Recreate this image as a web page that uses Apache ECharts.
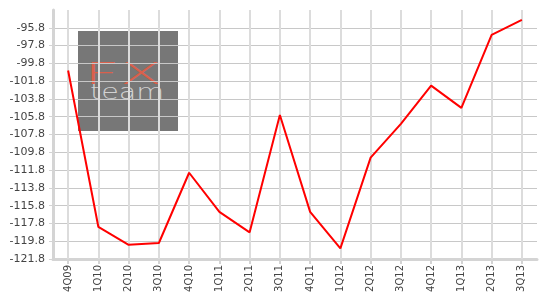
<!DOCTYPE html>
<html>
<head>
<meta charset="utf-8">
<script src="https://cdn.jsdelivr.net/npm/echarts@6/dist/echarts.min.js"></script>
<style>
html,body{margin:0;padding:0;background:#fff;}
#wrap{position:relative;width:552px;height:303px;}
#logo{position:absolute;left:78px;top:31px;width:100px;height:100px;background:#777;overflow:visible;z-index:0;}
#logo span{position:absolute;white-space:nowrap;font-family:"DejaVu Sans ExtraLight","DejaVu Sans";font-weight:200;transform-origin:0 0;}
#fx{left:6px;top:27px;font-size:31px;line-height:31px;color:#d9604c;transform:scaleX(2);}
#team{left:12px;top:50px;font-size:22px;line-height:22px;color:#d2d2d2;transform:scaleX(1.3);}
#c{position:absolute;left:0;top:0;width:552px;height:303px;z-index:1;}
</style>
</head>
<body>
<div id="wrap">
<div id="logo"><span id="fx">FX</span><span id="team">team</span></div>
<div id="c"></div>
</div>
<script>
var categories = ['4Q09','1Q10','2Q10','3Q10','4Q10','1Q11','2Q11','3Q11','4Q11','1Q12','2Q12','3Q12','4Q12','1Q13','2Q13','3Q13'];
var values = [-100.6,-118.2,-120.2,-120.0,-112.1,-116.5,-118.8,-105.6,-116.5,-120.6,-110.4,-106.6,-102.3,-104.8,-96.6,-94.9];
var yMin = -121.8, yMax = -93.8, yStep = 2;

var chart = echarts.init(document.getElementById('c'), null, {renderer:'canvas'});
chart.setOption({
  animation: false,
  backgroundColor: 'transparent',
  grid: {left: 53, right: 15, top: 10, bottom: 44, containLabel: false},
  xAxis: {
    type: 'category',
    data: categories,
    boundaryGap: true,
    axisLine: {show: true, lineStyle: {color: '#d4d4d4', width: 3}},
    axisTick: {show: true, alignWithLabel: true, length: 5, lineStyle: {color: '#d4d4d4', width: 2}},
    axisLabel: {rotate: 90, fontFamily: 'DejaVu Sans', fontSize: 10, color: '#444', margin: 6, interval: 0},
    splitLine: {show: false}
  },
  yAxis: {
    type: 'value',
    min: yMin, max: yMax, interval: yStep,
    axisLine: {show: true, lineStyle: {color: '#d4d4d4', width: 3}},
    axisTick: {show: true, length: 4, lineStyle: {color: '#d4d4d4', width: 1}},
    axisLabel: {fontFamily: 'DejaVu Sans', fontSize: 11, color: '#444', margin: 8, showMaxLabel: false,
      formatter: function(v){ return v.toFixed(1); }},
    splitLine: {show: true, showMaxLine: false, lineStyle: {color: '#c8c8c8', width: 1}}
  },
  series: [{
    name: 'grid',
    type: 'line',
    data: [],
    z: 1,
    silent: true,
    markLine: {
      silent: true,
      animation: false,
      symbol: ['none', 'none'],
      label: {show: false},
      lineStyle: {type: 'solid', color: '#dcdcdc', width: 2},
      emphasis: {disabled: true},
      data: categories.map(function(c){ return {xAxis: c}; })
    }
  }, {
    name: 'value',
    type: 'line',
    data: values,
    showSymbol: false,
    symbol: 'none',
    lineStyle: {color: '#ff0000', width: 2},
    z: 5
  }]
});
</script>
</body>
</html>
